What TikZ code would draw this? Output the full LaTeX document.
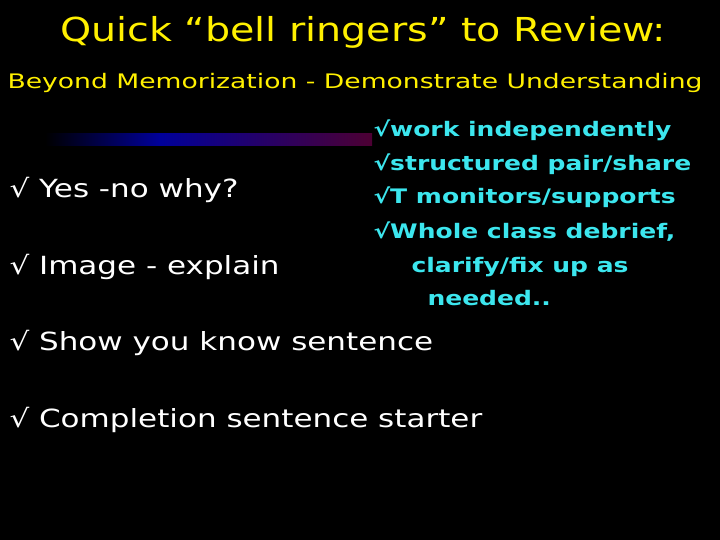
\documentclass[tikz,border=0pt]{standalone}
\usepackage{fontspec}
\usepackage{graphicx}
\setmainfont{DejaVu Sans}
\definecolor{cy}{HTML}{3CE6EE}
\definecolor{yl}{HTML}{FFF000}
\begin{document}
\begin{tikzpicture}[x=1pt,y=-1pt,
 ttl/.style={text=yl,font=\fontsize{33}{36}\selectfont,anchor=base},
 sub/.style={text=yl,font=\fontsize{20}{22}\selectfont,anchor=base west},
 item/.style={text=white,font=\fontsize{25}{28}\selectfont,anchor=base west},
 side/.style={text=cy,font=\bfseries\fontsize{20}{24}\selectfont,anchor=base west}]
\fill[black] (0,0) rectangle (720,540);
\useasboundingbox (0,0) rectangle (720,540);
\shade[left color=black, right color=blue!60!black] (45,134) rectangle (160,146);
\shade[left color=blue!60!black, right color=red!60!blue!50!black] (160,134) rectangle (372,146);
\node[ttl] (t) at (363,42) {\scalebox{1.2}[1]{Quick “bell ringers” to Review:}};
\node[sub] (s) at (4,89) {\scalebox{1.33}[1]{Beyond Memorization - Demonstrate Understanding}};
\node[item] (i1) at (6,197) {\scalebox{1.24}[1]{√ Yes -no why?}};
\node[item] (i2) at (6,274) {\scalebox{1.24}[1]{√ Image - explain}};
\node[item] (i3) at (6,350) {\scalebox{1.24}[1]{√ Show you know sentence}};
\node[item] (i4) at (6,427) {\scalebox{1.24}[1]{√ Completion sentence starter}};
\node[side] (r1) at (370,137) {\scalebox{1.25}[1]{√work independently}};
\node[side] (r2) at (370,171) {\scalebox{1.25}[1]{√structured pair/share}};
\node[side] (r3) at (370,204) {\scalebox{1.25}[1]{√T monitors/supports}};
\node[side] (r4) at (370,238) {\scalebox{1.25}[1]{√Whole class debrief,}};
\node[side] (r5) at (408,272) {\scalebox{1.25}[1]{clarify/fix up as}};
\node[side] (r6) at (424,305) {\scalebox{1.25}[1]{needed..}};
\end{tikzpicture}
\end{document}
